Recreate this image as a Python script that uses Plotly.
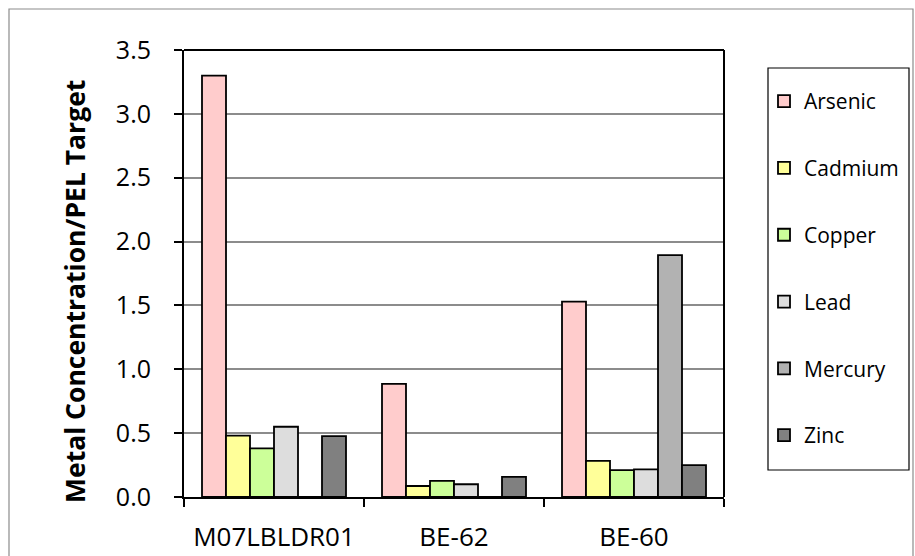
import plotly.graph_objects as go

categories = ["M07LBLDR01", "BE-62", "BE-60"]
metals = ["Arsenic", "Cadmium", "Copper", "Lead", "Mercury", "Zinc"]
arsenic = [3.30, 0.885, 1.53]
cadmium = [0.48, 0.086, 0.283]
copper = [0.38, 0.126, 0.21]
lead = [0.55, 0.10, 0.217]
mercury = [0.0, 0.0, 1.894]
zinc = [0.476, 0.157, 0.25]
values = [arsenic, cadmium, copper, lead, mercury, zinc]
colors = ["#FFCCCC", "#FFFF99", "#CCFF99", "#DDDDDD", "#B2B2B2", "#808080"]
yticks = [0, 0.5, 1.0, 1.5, 2.0, 2.5, 3.0, 3.5]

FONT = "Open Sans, sans-serif"

fig = go.Figure()
for name, vals, col in zip(metals, values, colors):
    fig.add_trace(go.Bar(
        x=categories, y=vals, name=name, legendgroup=name,
        marker=dict(color=col, line=dict(color="black", width=1.8)),
    ))

W, H = 915, 556
L, R, T, B = 184, 724, 50, 497


def px(xp):
    return (xp - L) / (R - L)


def py(yp):
    return (B - yp) / (B - T)


fig.update_layout(
    width=W, height=H,
    margin=dict(l=L, r=W - R, t=T, b=H - B, autoexpand=False),
    paper_bgcolor="white", plot_bgcolor="white",
    barmode="group", bargap=0.2, bargroupgap=0,
    font=dict(family=FONT, size=24, color="black"),
    showlegend=True,
    legend=dict(
        x=px(764), y=py(81),
        xanchor="left", yanchor="top",
        borderwidth=0, bgcolor="rgba(0,0,0,0)",
        font=dict(family=FONT, size=21, color="black"),
        tracegroupgap=36.5, itemwidth=30,
    ),
    xaxis=dict(
        showline=True, linecolor="black", linewidth=2, automargin=False,
        ticks="outside", tickson="boundaries", ticklen=8, tickwidth=2, tickcolor="black",
        showgrid=False, ticklabelstandoff=16,
        tickfont=dict(family=FONT, size=26),
    ),
    yaxis=dict(
        range=[0, 3.5], tickvals=yticks, ticktext=[f"{v:.1f}" for v in yticks],
        showline=True, linecolor="black", linewidth=2, automargin=False,
        ticks="outside", ticklen=8, tickwidth=2, tickcolor="black",
        showgrid=True, gridcolor="#8c8c8c", gridwidth=1.5,
        tickfont=dict(family=FONT, size=25), ticklabelstandoff=18,
        zeroline=False,
    ),
    annotations=[
        dict(text="<b>Metal Concentration/PEL Target</b>", xref="paper", yref="paper",
             x=px(75), y=py(292), xanchor="center", yanchor="middle",
             textangle=-90, showarrow=False, font=dict(family=FONT, size=26.5, color="black")),
    ],
    shapes=[
        dict(type="line", xref="paper", yref="paper", x0=0, x1=1, y0=1, y1=1,
             line=dict(color="black", width=2)),
        dict(type="line", xref="paper", yref="paper", x0=1, x1=1, y0=0, y1=1,
             line=dict(color="black", width=2)),
        dict(type="rect", xref="paper", yref="paper",
             x0=px(768), x1=px(909), y0=py(470), y1=py(68),
             line=dict(color="black", width=1.2), layer="below"),
        dict(type="rect", xref="paper", yref="paper",
             x0=px(9), x1=px(913), y0=py(570), y1=py(9),
             line=dict(color="#8c8c8c", width=1.2), layer="below"),
    ],
)

fig.write_html("out.html", config={"displayModeBar": False},
               post_script="document.body.style.margin='0';document.body.style.overflow='hidden';")
